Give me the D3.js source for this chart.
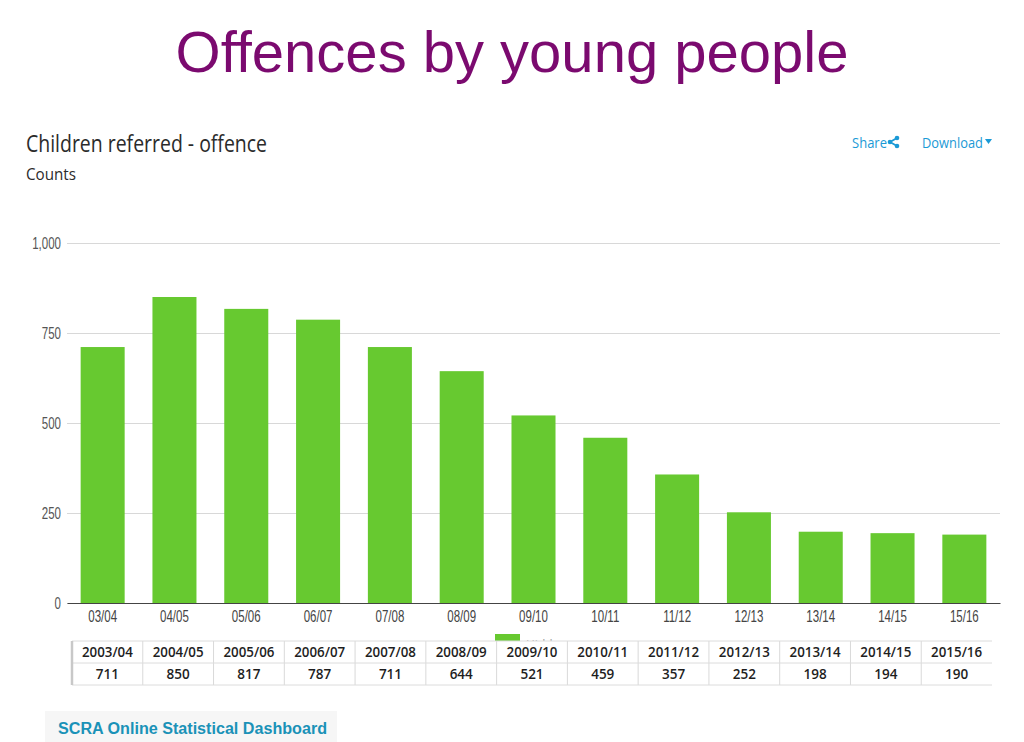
<!DOCTYPE html>
<html>
<head>
<meta charset="utf-8">
<script src="https://cdn.jsdelivr.net/npm/d3@7"></script>
<style>
  body { margin: 0; background: #fff; }
  svg { display: block; }
</style>
</head>
<body>
<div id="chart"></div>
<script>
// data
var shortLabels = ["03/04", "04/05", "05/06", "06/07", "07/08", "08/09", "09/10", "10/11", "11/12", "12/13", "13/14", "14/15", "15/16"];
var longLabels = ["2003/04", "2004/05", "2005/06", "2006/07", "2007/08", "2008/09", "2009/10", "2010/11", "2011/12", "2012/13", "2013/14", "2014/15", "2015/16"];
var counts = [711, 850, 817, 787, 711, 644, 521, 459, 357, 252, 198, 194, 190];
var yTicks = [0, 250, 500, 750, 1000];

var width = 1024, height = 742;
var sans = "'Liberation Sans', Arial, sans-serif";
var squeeze = 0.72; // axis labels are a narrow face

var svg = d3.select("#chart").append("svg")
    .attr("width", width)
    .attr("height", height);

// slide title
svg.append("text")
    .attr("x", 512).attr("y", 72)
    .attr("text-anchor", "middle")
    .attr("font-family", sans)
    .attr("font-size", 58)
    .attr("fill", "#7b0a6f")
    .text("Offences by young people");

// chart header
svg.append("text")
    .attr("x", 26).attr("y", 152)
    .attr("font-family", "'Open Sans', sans-serif")
    .attr("font-size", 24)
    .attr("fill", "#2b2b2b")
    .attr("textLength", 241)
    .attr("lengthAdjust", "spacingAndGlyphs")
    .text("Children referred - offence");

svg.append("text")
    .attr("x", 26).attr("y", 180)
    .attr("font-family", "'Open Sans', sans-serif")
    .attr("font-size", 17)
    .attr("fill", "#2b2b2b")
    .attr("textLength", 50)
    .attr("lengthAdjust", "spacingAndGlyphs")
    .text("Counts");

var linkColor = "#1b9ad6";
svg.append("text")
    .attr("x", 852).attr("y", 148)
    .attr("font-family", "'Open Sans', sans-serif")
    .attr("font-size", 15)
    .attr("fill", linkColor)
    .attr("textLength", 35)
    .attr("lengthAdjust", "spacingAndGlyphs")
    .text("Share");
// share icon
var share = svg.append("g").attr("transform", "translate(894,142)");
share.append("path").attr("d", "M-4,0 L3,-4 M-4,0 L3,4")
    .attr("stroke", linkColor).attr("stroke-width", 1.8);
share.selectAll("circle").data([[-4, 0], [3, -4], [3, 4]]).enter().append("circle")
    .attr("cx", function(d) { return d[0]; })
    .attr("cy", function(d) { return d[1]; })
    .attr("r", 2.3)
    .attr("fill", linkColor);

svg.append("text")
    .attr("x", 922).attr("y", 148)
    .attr("font-family", "'Open Sans', sans-serif")
    .attr("font-size", 15)
    .attr("fill", linkColor)
    .attr("textLength", 61)
    .attr("lengthAdjust", "spacingAndGlyphs")
    .text("Download");
svg.append("path")
    .attr("d", "M985,139 L992,139 L988.5,144 Z")
    .attr("fill", linkColor);

// scales
var x = d3.scaleBand()
    .domain(shortLabels)
    .range([67, 1000])
    .paddingInner(0.387)
    .paddingOuter(0.19);

var y = d3.scaleLinear()
    .domain([0, 1000])
    .range([603, 243]);

// grid + y labels
var yAxis = svg.append("g")
    .attr("transform", "translate(67,0)")
    .call(d3.axisLeft(y).tickValues(yTicks).tickSize(-933).tickPadding(6).tickFormat(d3.format(",")));
yAxis.select(".domain").remove();
yAxis.selectAll(".tick line").attr("stroke", "#d8d8d8");
yAxis.selectAll(".tick text")
    .attr("font-family", sans)
    .attr("font-size", 16)
    .attr("fill", "#555")
    .attr("x", -6 / squeeze)
    .attr("transform", "scale(" + squeeze + ",1)");

// bars
svg.append("g").selectAll("rect")
    .data(counts)
    .enter().append("rect")
    .attr("x", function(d, i) { return x(shortLabels[i]); })
    .attr("y", function(d) { return y(d); })
    .attr("width", x.bandwidth())
    .attr("height", function(d) { return y(0) - y(d); })
    .attr("fill", "#67c930");

// x axis
var xAxis = svg.append("g")
    .attr("transform", "translate(0,603)")
    .call(d3.axisBottom(x).tickSize(0).tickPadding(8));
xAxis.select(".domain").attr("stroke", "#444").attr("stroke-width", 1.2);
xAxis.selectAll(".tick text")
    .attr("font-family", sans)
    .attr("font-size", 16)
    .attr("fill", "#444")
    .attr("transform", "scale(" + squeeze + ",1)");

// legend peeking out behind the table
svg.append("clipPath").attr("id", "legendClip")
    .append("rect").attr("x", 480).attr("y", 620).attr("width", 120).attr("height", 21);
var legend = svg.append("g").attr("clip-path", "url(#legendClip)");
legend.append("rect")
    .attr("x", 495).attr("y", 634)
    .attr("width", 25).attr("height", 8)
    .attr("fill", "#67c930");
legend.append("text")
    .attr("x", 526).attr("y", 649)
    .attr("font-family", "'Open Sans', sans-serif")
    .attr("font-size", 12)
    .attr("fill", "#999")
    .text("Hidden");

// pasted data table
var tableLeft = 72, tableRight = 992, tableTop = 641, rowH = 22;
var col = d3.scaleBand().domain(longLabels).range([tableLeft, tableRight]);

var table = svg.append("g");
table.append("rect")
    .attr("x", tableLeft).attr("y", tableTop)
    .attr("width", tableRight - tableLeft).attr("height", rowH * 2)
    .attr("fill", "#fff");
table.selectAll("line.v")
    .data(longLabels.slice(1))
    .enter().append("line")
    .attr("x1", function(d) { return col(d); })
    .attr("x2", function(d) { return col(d); })
    .attr("y1", tableTop).attr("y2", tableTop + rowH * 2)
    .attr("stroke", "#d9d9d9");
table.selectAll("line.h")
    .data([0, 1, 2])
    .enter().append("line")
    .attr("x1", tableLeft).attr("x2", tableRight)
    .attr("y1", function(d) { return tableTop + d * rowH; })
    .attr("y2", function(d) { return tableTop + d * rowH; })
    .attr("stroke", "#dcdcdc");
table.append("line")
    .attr("x1", tableLeft).attr("x2", tableLeft)
    .attr("y1", tableTop).attr("y2", tableTop + rowH * 2)
    .attr("stroke", "#c8c8c8").attr("stroke-width", 2.5);

table.selectAll("text.head")
    .data(longLabels)
    .enter().append("text")
    .attr("x", function(d) { return col(d) + col.bandwidth() / 2; })
    .attr("y", tableTop + 16)
    .attr("text-anchor", "middle")
    .attr("font-family", "'Open Sans', sans-serif")
    .attr("font-size", 13.5)
    .attr("font-weight", 600)
    .attr("fill", "#1e1e1e")
    .attr("textLength", 51)
    .attr("lengthAdjust", "spacingAndGlyphs")
    .text(function(d) { return d; });

table.selectAll("text.val")
    .data(counts)
    .enter().append("text")
    .attr("x", function(d, i) { return col(longLabels[i]) + col.bandwidth() / 2; })
    .attr("y", tableTop + rowH + 16)
    .attr("text-anchor", "middle")
    .attr("font-family", "'Open Sans', sans-serif")
    .attr("font-size", 13.5)
    .attr("font-weight", 600)
    .attr("fill", "#1e1e1e")
    .text(function(d) { return d; });

// footer
svg.append("rect")
    .attr("x", 45).attr("y", 711)
    .attr("width", 292).attr("height", 31)
    .attr("fill", "#f6f6f6");
svg.append("text")
    .attr("x", 58).attr("y", 734)
    .attr("font-family", sans)
    .attr("font-size", 16)
    .attr("font-weight", "bold")
    .attr("fill", "#1a92b8")
    .attr("textLength", 269)
    .attr("lengthAdjust", "spacingAndGlyphs")
    .text("SCRA Online Statistical Dashboard");
</script>
</body>
</html>
